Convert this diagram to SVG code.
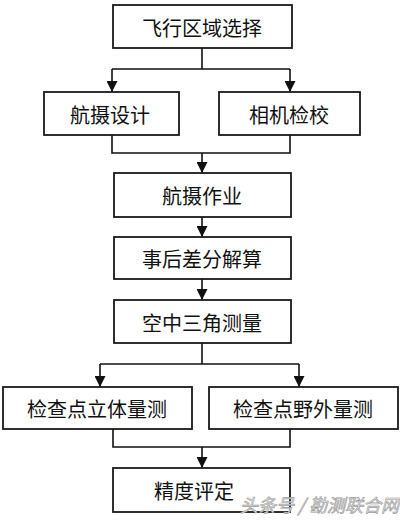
<svg xmlns="http://www.w3.org/2000/svg" width="400" height="521" viewBox="0 0 400 521">
<defs>
<marker id="ah" viewBox="0 0 10 10" refX="10" refY="5" markerWidth="11" markerHeight="11" markerUnits="userSpaceOnUse" orient="auto">
<path d="M0,0 L10,5 L0,10 Z" fill="#111"/>
</marker>
<style>
.box{fill:#fff;stroke:#1a1a1a;stroke-width:1.8}
.t{font-family:"Noto Sans CJK SC","Liberation Sans",sans-serif;font-size:20px;fill:#111;text-anchor:middle;dominant-baseline:central}
.c{fill:none;stroke:#111;stroke-width:1.6}
.wm{font-family:"Noto Sans CJK SC",sans-serif;font-size:18px;fill:#e8e8e8;stroke:#9a9a9a;stroke-width:0.6;font-style:italic}
</style>
</defs>
<rect width="400" height="521" fill="#fff"/>
<g id="connectors">
<path class="c" d="M202,48 V69 M112,69 H290"/>
<path class="c" d="M112,69 V92" marker-end="url(#ah)"/>
<path class="c" d="M290,69 V92" marker-end="url(#ah)"/>
<path class="c" d="M112,135 V153 H290 V135"/>
<path class="c" d="M202,153 V173" marker-end="url(#ah)"/>
<path class="c" d="M202,217 V237" marker-end="url(#ah)"/>
<path class="c" d="M202,279 V300" marker-end="url(#ah)"/>
<path class="c" d="M202,343 V364 M100,364 H299"/>
<path class="c" d="M100,364 V387" marker-end="url(#ah)"/>
<path class="c" d="M299,364 V387" marker-end="url(#ah)"/>
<path class="c" d="M113,429 V447 H290 V429"/>
<path class="c" d="M202,447 V468" marker-end="url(#ah)"/>
</g>
<g id="n1"><rect class="box" x="113" y="5" width="179" height="43"/><text class="t" x="202" y="27">飞行区域选择</text></g>
<g id="n2"><rect class="box" x="44" y="92" width="135" height="43"/><text class="t" x="110" y="114">航摄设计</text></g>
<g id="n3"><rect class="box" x="219" y="92" width="141" height="43"/><text class="t" x="289" y="114">相机检校</text></g>
<g id="n4"><rect class="box" x="114" y="173" width="177" height="44"/><text class="t" x="202" y="195">航摄作业</text></g>
<g id="n5"><rect class="box" x="114" y="237" width="177" height="42"/><text class="t" x="202" y="258">事后差分解算</text></g>
<g id="n6"><rect class="box" x="114" y="300" width="177" height="43"/><text class="t" x="202" y="322">空中三角测量</text></g>
<g id="n7"><rect class="box" x="3" y="387" width="189" height="42"/><text class="t" x="97" y="408">检查点立体量测</text></g>
<g id="n8"><rect class="box" x="209" y="387" width="189" height="42"/><text class="t" x="303" y="408">检查点野外量测</text></g>
<g id="n9"><rect class="box" x="113" y="468" width="177" height="44"/><text class="t" x="194" y="490">精度评定</text></g>
<text class="wm" x="240" y="512">头条号 / 勘测联合网</text>
</svg>
